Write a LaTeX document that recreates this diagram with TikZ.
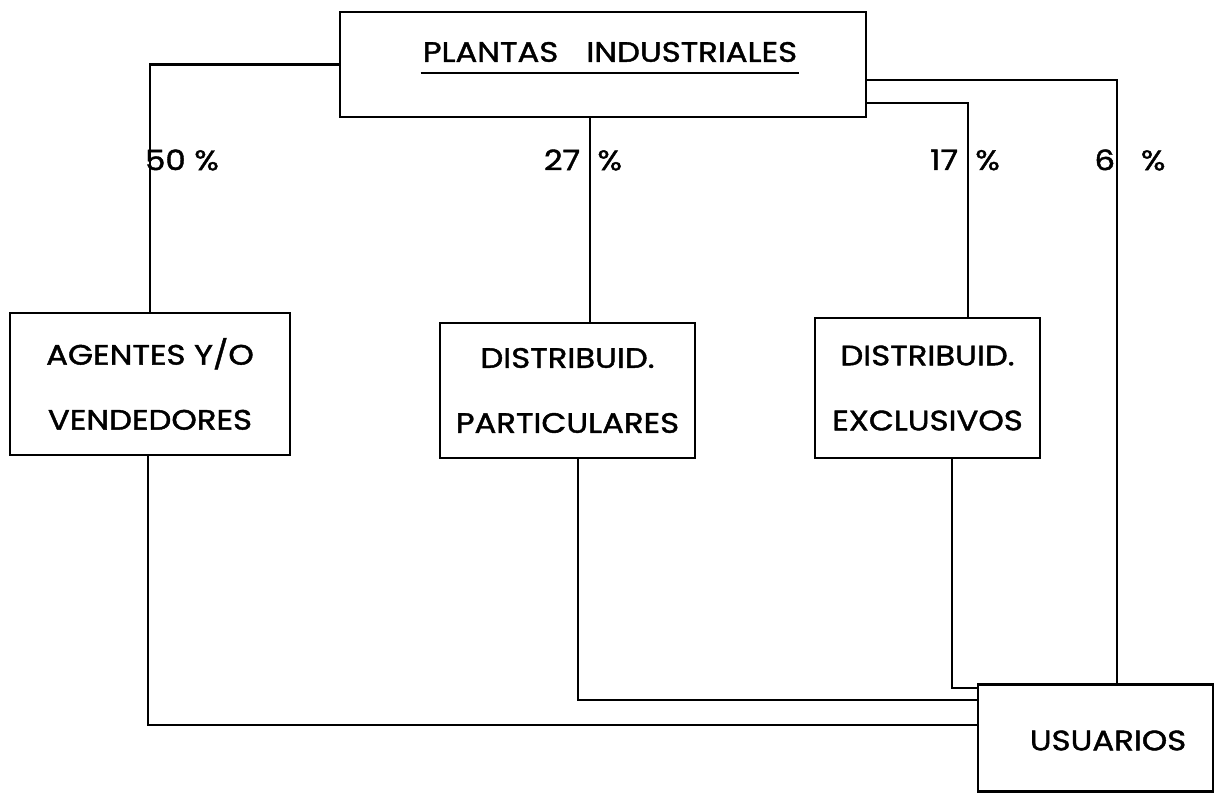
\documentclass[tikz,border=0pt]{standalone}
\usepackage{fontspec}
\setmainfont{Poppins}[FakeStretch=1.15, FakeBold=1.5]
\tikzset{
	canal/.style={line width=1.6pt},
	caja/.style={draw, line width=1.6pt, align=center, font=\fontsize{16}{37}\selectfont},
	pct/.style={font=\fontsize{16}{20}\selectfont}
}

\begin{document}
\begin{tikzpicture}[x=0.02cm,y=-0.02cm]
	\useasboundingbox (0,0) rectangle (1224,797);
	% cajas
	\node[caja, minimum width=10.52cm, minimum height=2.1cm] (plantas) at (603,64.5) {};
	\node[font=\fontsize{16}{20}\selectfont, inner sep=1pt] (titulo) at (610,52) {PLANTAS\quad INDUSTRIALES};
	\draw[canal] ([yshift=-5pt]titulo.south west) -- ([yshift=-5pt]titulo.south east);
	\node[caja, minimum width=5.6cm, minimum height=2.84cm] (agentes) at (150,384) {AGENTES Y/O\\VENDEDORES};
	\node[caja, minimum width=5.1cm, minimum height=2.7cm] (particul) at (567.5,390.5) {DISTRIBUID.\\PARTICULARES};
	\node[caja, minimum width=4.5cm, minimum height=2.8cm] (exclus) at (927.5,388) {DISTRIBUID.\\EXCLUSIVOS};
	\node[caja, minimum width=4.7cm, minimum height=2.14cm, text height=14pt, text depth=0pt] (usuarios) at (1095.5,738) {\hspace*{0.5cm}USUARIOS};
	% puntos de paso
	\coordinate (c27) at (590,0);
	\coordinate (c17) at (968,103);
	\coordinate (c6) at (1117,80);
	\coordinate (c50b) at (148,725);
	\coordinate (c27b) at (578,700);
	\coordinate (c17b) at (952,688);
	% canales de venta
	\draw[canal] (plantas.west) -| (agentes.north);
	\draw[canal] (plantas.south -| c27) -- (particul.north -| c27);
	\draw[canal] (plantas.east |- c17) -| (exclus.north -| c17);
	\draw[canal] (plantas.east |- c6) -| (usuarios.north -| c6);
	\draw[canal] (agentes.south -| c50b) |- (usuarios.west |- c50b);
	\draw[canal] (particul.south -| c27b) |- (usuarios.west |- c27b);
	\draw[canal] (exclus.south -| c17b) |- (usuarios.west |- c17b);
	% porcentajes
	\node[pct] (p50) at (182,160) {50 \%};
	\node[pct] (p27) at (583,160) {27 \ \%};
	\node[pct] (p17) at (965,160) {17 \ \%};
	\node[pct] (p6) at (1130,160) {6 \ \ \%};
\end{tikzpicture}
\end{document}
